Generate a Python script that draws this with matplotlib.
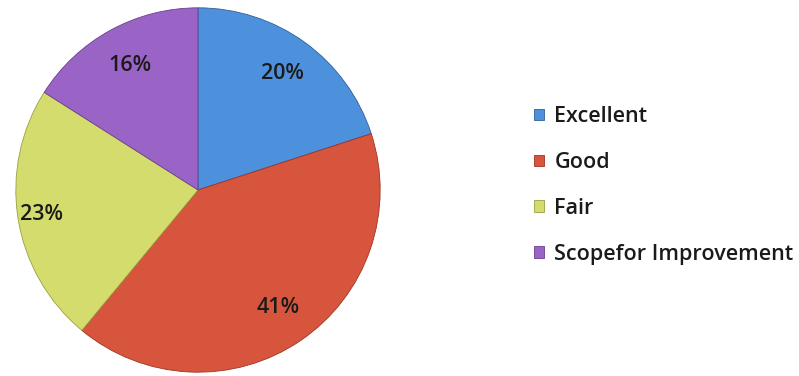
import numpy as np
import matplotlib.pyplot as plt

categories = ["Excellent", "Good", "Fair", "Scope for Improvement"]
shares = [20, 41, 23, 16]
colors = ["#4d90dc", "#d8553d", "#d3dc6c", "#9a63c6"]
edge_colors = ["#2f5f9a", "#9e3324", "#9aa043", "#6a3f8f"]
label_dist = [0.79, 0.78, 0.87, 0.78]

plt.rcParams['font.family'] = ['Open Sans', 'DejaVu Sans']

fig = plt.figure(figsize=(7.99, 3.76), dpi=100)
ax = fig.add_axes([14 / 799, 2 / 376, 368 / 799, 368 / 376])

wedges, _ = ax.pie(shares, colors=colors, startangle=90, counterclock=False,
                   radius=1.0, wedgeprops=dict(linewidth=0))
for w, ec in zip(wedges, edge_colors):
    w.set_edgecolor(ec)
    w.set_linewidth(0.6)

# percentage labels placed at each slice's middle angle
start = 90.0
for share, d in zip(shares, label_dist):
    mid = np.deg2rad(start - share * 3.6 / 2)
    ax.text(d * np.cos(mid), d * np.sin(mid), f"{share}%", ha="center", va="center",
            fontsize=15.5, fontweight="semibold", color="#1a1a1a")
    start -= share * 3.6

ax.set_xlim(-1.01, 1.01)
ax.set_ylim(-1.01, 1.01)
ax.set_aspect("equal")
ax.axis("off")

fig.legend(wedges, ["Excellent", "Good", "Fair", "Scopefor Improvement"],
           loc="center left", bbox_to_anchor=(0.644, 0.507), frameon=False,
           prop=dict(size=15.5, weight="semibold"), handlelength=0.45, handleheight=0.45,
           handletextpad=0.5, labelspacing=1.15, labelcolor="#1a1a1a")

fig.savefig("out.png", dpi=100)
